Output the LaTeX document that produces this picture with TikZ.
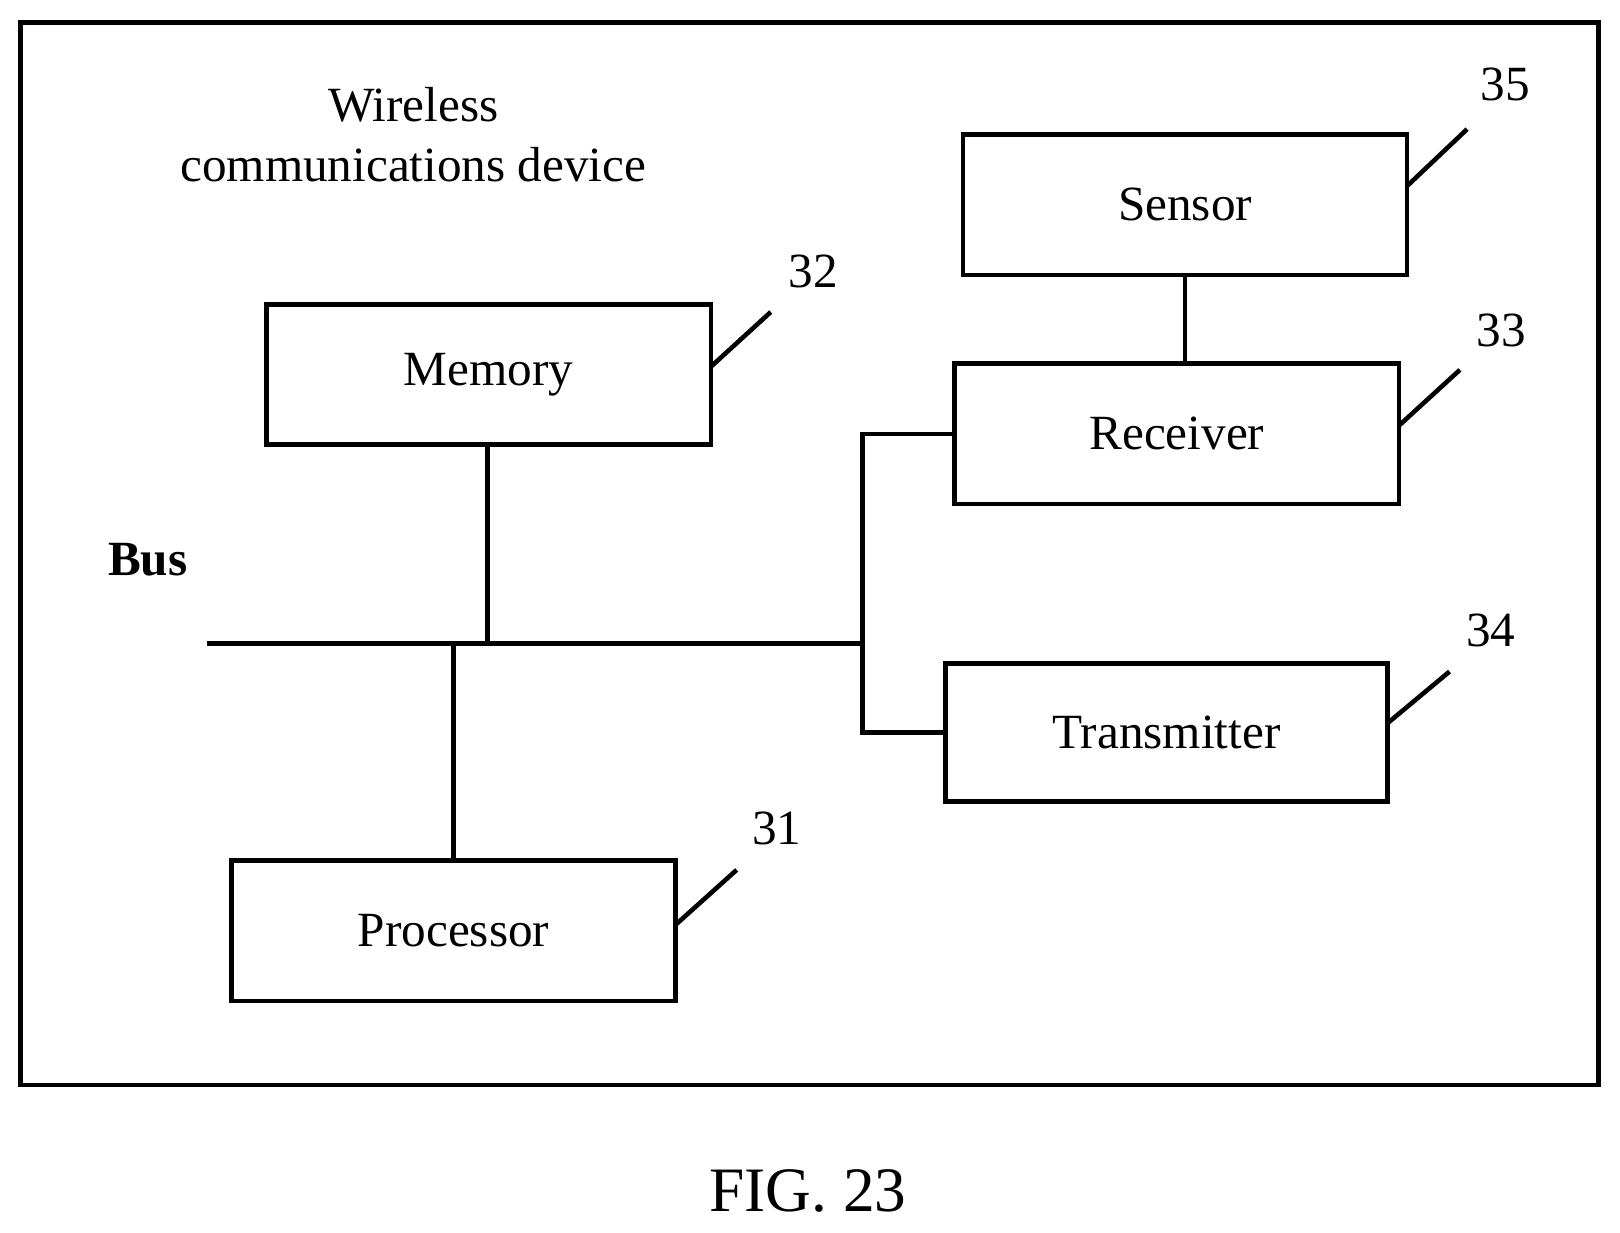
\documentclass[tikz,border=0pt]{standalone}
\usepackage{fontspec}
\setmainfont{Liberation Serif}
\begin{document}
\begin{tikzpicture}[x=0.01033cm,y=-0.01033cm,line width=1.3pt,
  box/.style={draw,line width=1.3pt},
  lbl/.style={font=\fontsize{14}{17}\selectfont},
  num/.style={font=\fontsize{14}{16}\selectfont}]
\useasboundingbox (0,0) rectangle (1568,1193);
\draw (20,22) rectangle (1547,1050);
\node[lbl,align=center] (title) at (400,130) {Wireless\\communications device};
\node[lbl,font=\fontsize{14}{17}\selectfont\bfseries] (bus) at (143,542) {Bus};
\node[font=\fontsize{18}{20}\selectfont] (fig) at (782,1153) {FIG. 23};
\draw[box] (258,295) rectangle (688,430) node[lbl,midway] (mem) {Memory};
\draw[box] (932,130) rectangle (1362,266) node[lbl,midway] (sen) {Sensor};
\draw[box] (924,352) rectangle (1354,488) node[lbl,midway] (rec) {Receiver};
\draw[box] (915,642) rectangle (1343,776) node[lbl,midway] (tra) {Transmitter};
\draw[box] (224,833) rectangle (654,969) node[lbl,midway] (pro) {Processor};
\coordinate (b0) at (200,623); \coordinate (b1) at (835,623);
\draw (b0) -- (b1);
\draw (472,430) -- (472,623);
\draw (439,623) -- (439,833);
\draw (924,420) -- (835,420) -- (835,709) -- (915,709);
\draw (1147,266) -- (1147,352);
\draw (1362,180) -- (1420,125); \node[num] (n35) at (1457,82) {35};
\draw (688,355) -- (746,302); \node[num] (n32) at (787,263) {32};
\draw (1354,412) -- (1413,358); \node[num] (n33) at (1453,320) {33};
\draw (1343,700) -- (1403,650); \node[num] (n34) at (1443,610) {34};
\draw (654,895) -- (713,842); \node[num] (n31) at (752,802) {31};
\end{tikzpicture}
\end{document}
